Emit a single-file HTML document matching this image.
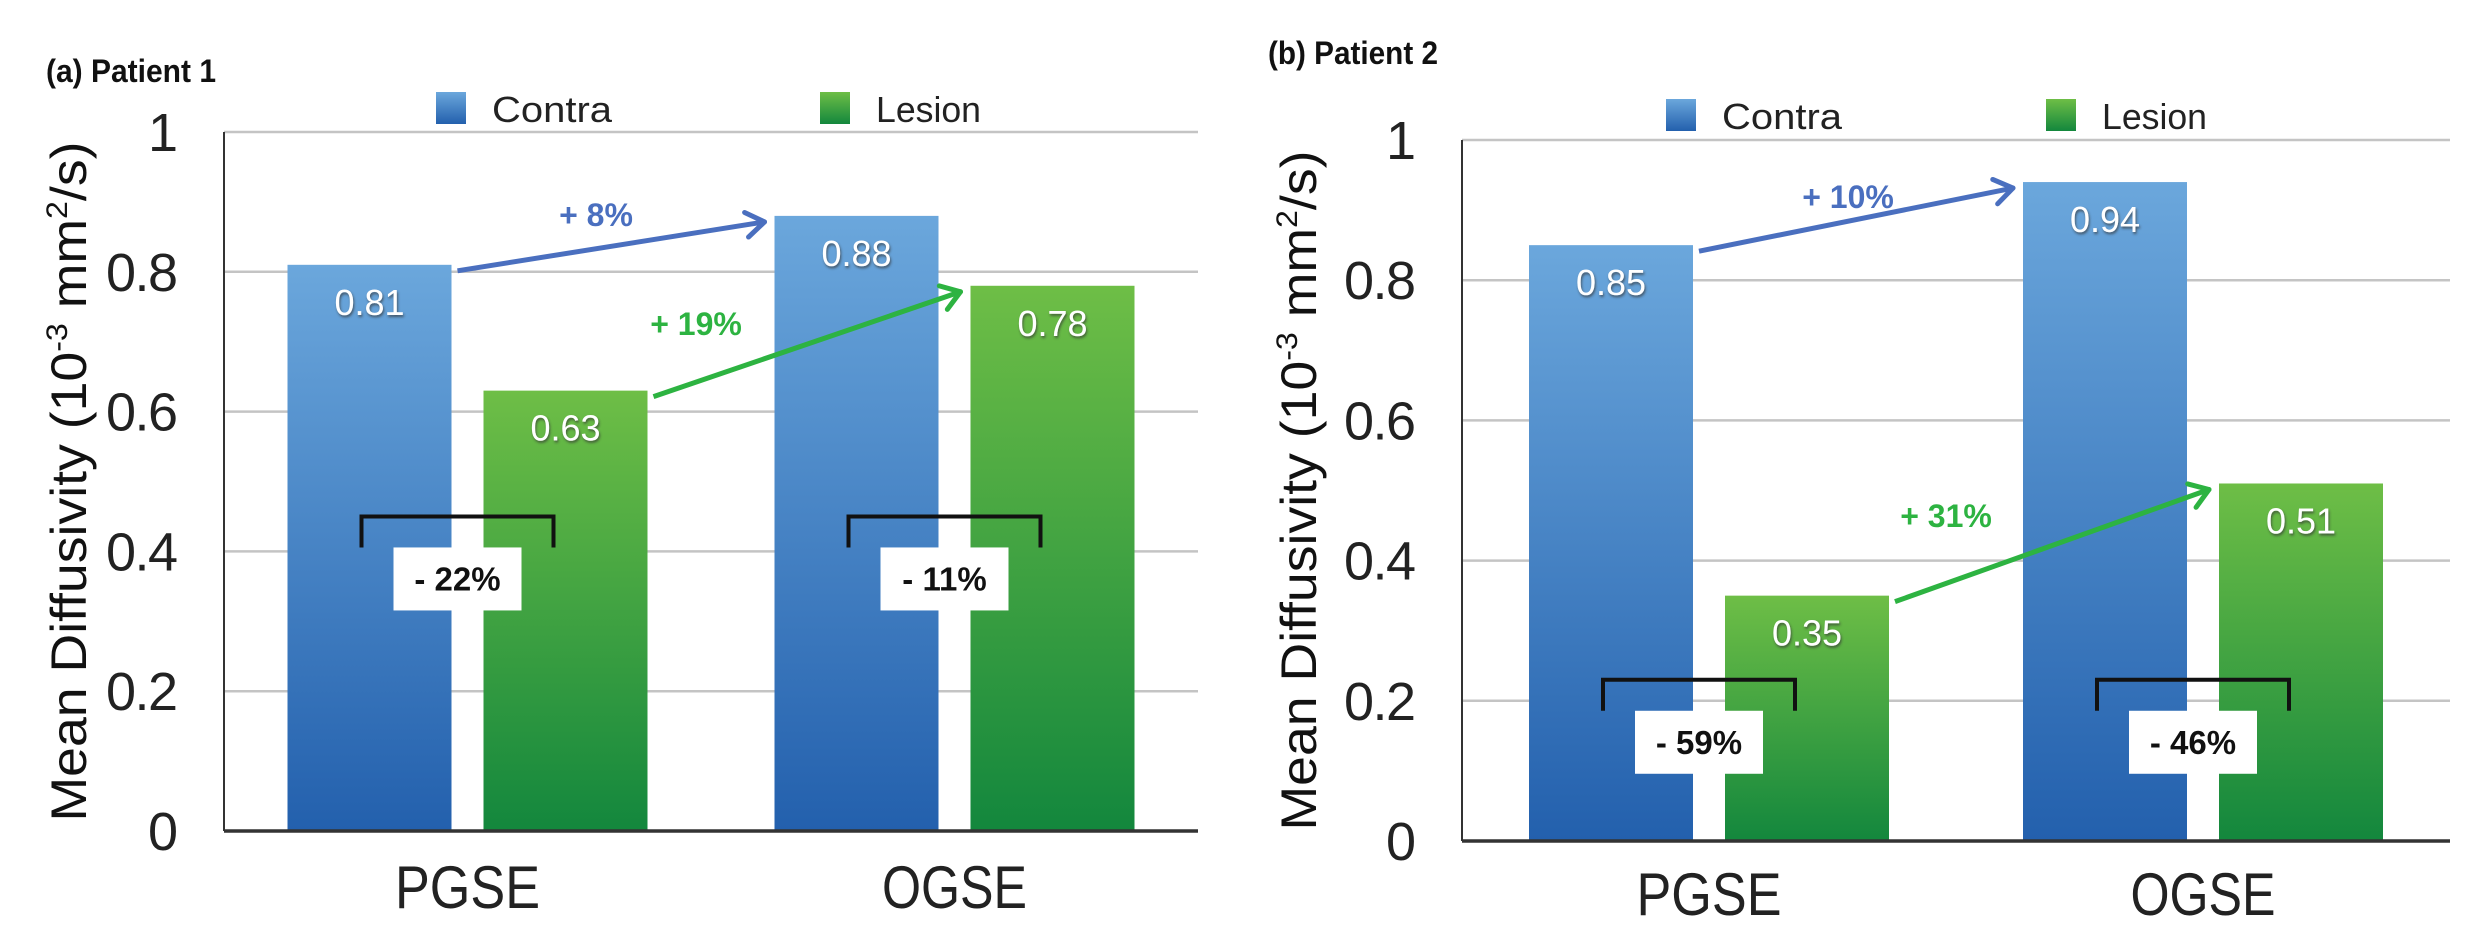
<!DOCTYPE html>
<html><head><meta charset="utf-8"><style>
html,body{margin:0;padding:0;background:#fff;overflow:hidden;}
svg{display:block;font-family:"Liberation Sans",sans-serif;}
</style></head><body>
<svg id="chart" width="2480" height="946" viewBox="0 0 2480 946" xmlns="http://www.w3.org/2000/svg">
<defs>
<linearGradient id="gBlue" x1="0" y1="0" x2="0" y2="1"><stop offset="0" stop-color="#6ba7dc"/><stop offset="1" stop-color="#2360ad"/></linearGradient>
<linearGradient id="gGreen" x1="0" y1="0" x2="0" y2="1"><stop offset="0" stop-color="#6ebe46"/><stop offset="1" stop-color="#13873d"/></linearGradient>
<filter id="sh" x="-20%" y="-20%" width="140%" height="140%"><feDropShadow dx="1" dy="2" stdDeviation="1.2" flood-color="#333" flood-opacity="0.7"/></filter>
</defs>
</svg>
<script>
const categories = ["PGSE", "OGSE"];
const seriesNames = ["Contra", "Lesion"];
const p1Contra = [0.81, 0.88];
const p1Lesion = [0.63, 0.78];
const p2Contra = [0.85, 0.94];
const p2Lesion = [0.35, 0.51];
const p1Changes = ["+ 8%", "+ 19%"];
const p2Changes = ["+ 10%", "+ 31%"];
const p1Diffs = ["- 22%", "- 11%"];
const p2Diffs = ["- 59%", "- 46%"];
const p1BracketLevel = [0.45, 0.45];
const p2BracketLevel = [0.23, 0.23];
const yTicks = [0, 0.2, 0.4, 0.6, 0.8, 1];
const yTickLabels = ["0", "0.2", "0.4", "0.6", "0.8", "1"];

const NS = "http://www.w3.org/2000/svg";
const svg = document.getElementById("chart");
function mk(tag, attrs, parent, text) {
  const e = document.createElementNS(NS, tag);
  for (const k in attrs) e.setAttribute(k, attrs[k]);
  if (text !== undefined) e.textContent = text;
  (parent || svg).appendChild(e);
  return e;
}

function panel(cfg) {
  const g = mk("g", {});
  
  
  const y = v => cfg.y0 - v * (cfg.y0 - cfg.y1);
  const catW = (cfg.right - cfg.left) / categories.length;
  const bw = 164, gap = 32;
  const xBar = (ci, si) => cfg.left + catW * ci + catW / 2 - gap / 2 - bw + si * (bw + gap);

  const t = mk("text", {x: cfg.titleX, y: cfg.titleY, "font-size": 32, "font-weight": "bold", fill: "#111", textLength: 170, lengthAdjust: "spacingAndGlyphs"}, g, cfg.title);
  
  

  yTicks.forEach((v, i) => {
    if (v > 0) {
      const l = mk("line", {x1: cfg.left, x2: cfg.right, y1: y(v), y2: y(v), stroke: "#c4c4c4", "stroke-width": 2.5}, g);
      
      
    }
    const tl = mk("text", {x: cfg.left - 46, y: y(v) + 19, "font-size": 54, "text-anchor": "end", fill: "#222", textLength: v > 0 && v < 1 ? 72 : null}, g, yTickLabels[i]);
    if (!(v > 0 && v < 1)) tl.removeAttribute("textLength");
    
    
  });

  const yt = mk("text", {transform: `translate(${cfg.titleAxisX},${(cfg.y0 + cfg.y1) / 2}) rotate(-90)`, "font-size": 50, "text-anchor": "middle", fill: "#111", textLength: 680, lengthAdjust: "spacingAndGlyphs"}, g);
  
  
  mk("tspan", {}, yt, "Mean Diffusivity (10");
  mk("tspan", {dy: -19, "font-size": 30}, yt, "-3");
  mk("tspan", {dy: 19}, yt, " mm");
  mk("tspan", {dy: -19, "font-size": 30}, yt, "2");
  mk("tspan", {dy: 19}, yt, "/s)");

  [["url(#gBlue)", cfg.legX[0]], ["url(#gGreen)", cfg.legX[1]]].forEach((lg, si) => {
    const r = mk("rect", {x: lg[1], y: cfg.legY - 30, width: 30, height: 32, fill: lg[0]}, g);
    
    
    const lt = mk("text", {x: lg[1] + 56, y: cfg.legY, "font-size": 36, fill: "#222", textLength: si ? 105 : 120, lengthAdjust: "spacingAndGlyphs"}, g, seriesNames[si]);
    
    
  });

  const series = [cfg.contra, cfg.lesion];
  const fills = ["url(#gBlue)", "url(#gGreen)"];
  series.forEach((vals, si) => {
    vals.forEach((v, ci) => {
      const x = xBar(ci, si);
      const b = mk("rect", {x: x, y: y(v), width: bw, height: y(0) - y(v), fill: fills[si]}, g);
      
      
      const vl = mk("text", {x: x + bw / 2, y: y(v) + 50, "font-size": 36, "text-anchor": "middle", fill: "#fff", filter: "url(#sh)"}, g, v.toFixed(2));
      
      
    });
  });

  const ax = mk("line", {x1: cfg.left, x2: cfg.left, y1: cfg.y1, y2: cfg.y0, stroke: "#333", "stroke-width": 2}, g);
  
  
  const bx = mk("line", {x1: cfg.left, x2: cfg.right, y1: cfg.y0, y2: cfg.y0, stroke: "#333", "stroke-width": 3.5}, g);
  
  

  categories.forEach((c, ci) => {
    const xl = mk("text", {x: cfg.left + catW * ci + catW / 2, y: cfg.xLabelY, "font-size": 60, "text-anchor": "middle", fill: "#222", textLength: 145, lengthAdjust: "spacingAndGlyphs"}, g, c);
    
    
  });

  const cols = ["#4a6fbf", "#2db341"];
  series.forEach((vals, si) => {
    const x1 = xBar(0, si) + bw + 6, y1 = y(vals[0]) + 6;
    const x2 = xBar(1, si) - 10, y2 = y(vals[1]) + 6;
    const ang = Math.atan2(y2 - y1, x2 - x1);
    const a = mk("g", {}, g);
    
    
    mk("line", {x1: x1, y1: y1, x2: x2, y2: y2, stroke: cols[si], "stroke-width": 5}, a);
    const hl = 22;
    [ang + 0.6, ang - 0.6].forEach(an => {
      mk("line", {x1: x2, y1: y2, x2: x2 - hl * Math.cos(an), y2: y2 - hl * Math.sin(an), stroke: cols[si], "stroke-width": 5, "stroke-linecap": "round"}, a);
    });
    const ct = mk("text", {x: cfg.changePos[si][0], y: cfg.changePos[si][1], "font-size": 32, "font-weight": "bold", "text-anchor": "middle", fill: cols[si]}, g, cfg.changes[si]);
    
    
  });

  categories.forEach((c, ci) => {
    const bxl = xBar(ci, 0) + bw / 2 - 8, bxr = xBar(ci, 1) + bw / 2 - 12;
    const by = y(cfg.bracket[ci]);
    const br = mk("path", {d: `M${bxl},${by + 31} V${by} H${bxr} V${by + 31}`, fill: "none", stroke: "#111", "stroke-width": 4}, g);
    
    
    const cx = (bxl + bxr) / 2;
    const bb = mk("rect", {x: cx - 64, y: by + 31, width: 128, height: 63, fill: "#fff"}, g);
    
    
    const dt = mk("text", {x: cx, y: by + 74, "font-size": 33, "font-weight": "bold", "text-anchor": "middle", fill: "#111"}, g, cfg.diffs[ci]);
    
    
  });
}

panel({id: "panel-patient-1", title: "(a) Patient 1", titleX: 46, titleY: 82, left: 224, right: 1198, y0: 831, y1: 132,
  contra: p1Contra, lesion: p1Lesion, changes: p1Changes, diffs: p1Diffs, bracket: p1BracketLevel,
  legX: [436, 820], legY: 122, titleAxisX: 86, xLabelY: 908, changePos: [[596, 226], [696, 335]]});
panel({id: "panel-patient-2", title: "(b) Patient 2", titleX: 1268, titleY: 64, left: 1462, right: 2450, y0: 841, y1: 140,
  contra: p2Contra, lesion: p2Lesion, changes: p2Changes, diffs: p2Diffs, bracket: p2BracketLevel,
  legX: [1666, 2046], legY: 129, titleAxisX: 1316, xLabelY: 915, changePos: [[1848, 208], [1946, 527]]});
</script>
</body></html>
